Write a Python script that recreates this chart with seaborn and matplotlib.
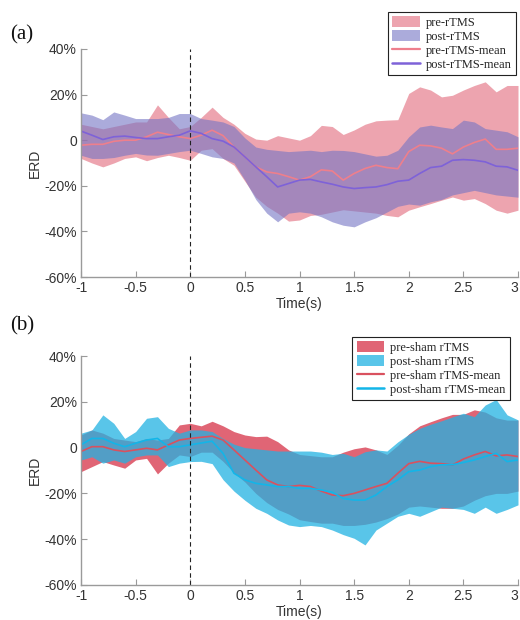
import numpy as np
import pandas as pd
import matplotlib
matplotlib.use("Agg")
import matplotlib.pyplot as plt
import matplotlib.transforms as mtransforms
from matplotlib.patches import Patch
from matplotlib.lines import Line2D
import seaborn as sns

# ---------------- data ----------------
time_s = [round(-1.0 + 0.1 * i, 1) for i in range(41)]

# panel (a)
a_pre_mean = [-2.2, -1.8, -1.8, -0.5, 0.0, 0.0, 1.5, 3.5, 2.5, 1.5, 0.7, 2.2, 4.4, 2.0, -3.0,
              -7.3, -11.7, -13.9, -14.6, -16.0, -17.5, -16.0, -13.0, -13.5, -17.5, -14.6, -12.4,
              -11.0, -12.0, -12.5, -5.0, -2.2, -2.5, -3.5, -6.0, -3.0, -1.0, 0.5, -4.0, -4.0, -3.5]
a_pre_upper = [7, 6, 5, 6, 7, 8, 8, 15.5, 10, 5, 6, 10, 14.5, 10, 7, 3, 0.5, 0, 2, 1, 0, 2, 6.5,
               6, 2.5, 4.5, 7, 8.5, 8.8, 9, 20.5, 23.4, 22, 19, 19.7, 22, 24, 25.6, 21.2, 24, 24]
a_pre_lower = [-8, -10, -11.7, -10, -8, -7.3, -9, -7.6, -6.6, -7.6, -8.8, -4.4, -3.7, -8, -11,
               -18, -25, -29, -32, -35.5, -35, -33, -32.5, -31.5, -30.5, -31, -31.5, -32, -33,
               -33.6, -30.7, -29.2, -27.8, -26.3, -24.9, -26.3, -25.6, -27.8, -30.7, -32, -30.7]
a_post_mean = [4.0, 2.2, 0.3, 1.5, 1.8, 1.2, 0.7, 0.7, 1.5, 2.2, 4.1, 3.0, 0.7, -0.4, -3.0,
               -7.3, -11.7, -16.0, -20.5, -19.0, -17.5, -17.2, -18.3, -19.3, -20.5, -21.2, -20.8,
               -20.5, -19.5, -18.0, -17.5, -14.6, -12.0, -11.4, -8.8, -8.5, -8.8, -9.5, -11.4,
               -11.7, -13.2]
a_post_upper = [12, 11, 9, 12.4, 11, 9.5, 9.5, 9.5, 10, 11.7, 11.7, 9.5, 8.8, 8, 6, 1, -3, -4,
                -4.5, -5, -4.7, -4.4, -5, -4.4, -4.5, -5, -6, -7, -6.6, -4.4, 1.5, 5.8, 6.6, 5.8,
                5.1, 8.8, 8, 5.1, 4.4, 3.7, 1.5]
a_post_lower = [-6.6, -8, -8, -7.6, -6.6, -5.8, -6.5, -6.6, -5.8, -5, -4.4, -5.8, -7.3, -8, -10,
                -17.5, -26, -32, -35.8, -32, -31.4, -32, -33.6, -35.8, -37.3, -38, -35.8, -34,
                -31.5, -29, -28, -28.5, -27, -26, -24, -23, -22, -23, -24, -24.5, -25]

# panel (b)
b_pre_mean = [-1.7, 0.4, 0.4, -1.0, -1.7, -1.0, -0.3, -1.0, 1.2, 3.3, 4.0, 4.5, 5.0, 3.3, -1.0,
              -5.4, -9.8, -14.1, -16.3, -17.0, -16.5, -17.0, -19.0, -20.7, -21.0, -20.0, -18.5,
              -17.0, -15.6, -11.2, -7.0, -6.0, -6.8, -7.0, -7.6, -5.0, -3.2, -1.7, -3.6, -3.2, -3.9]
b_pre_upper = [5.5, 7.7, 6.3, 4, 3.3, 2.6, 4, 3.3, 4, 9.9, 10.6, 9.5, 11.5, 9.5, 7, 5.5, 4.8, 5,
               2.6, -1, -3, -3.5, -4, -4, -2, -0.5, 0.3, -1, -3, 1, 6, 9.5, 11.3, 13, 14.5, 14.5,
               16.5, 15.5, 13, 12, 12]
b_pre_lower = [-10.5, -8.3, -6.1, -7.6, -9, -5.4, -4.7, -11.5, -6.8, -3.2, -3.9, -2, -2, -6, -11,
               -15, -20, -24, -27, -29, -31.5, -32.3, -33, -33, -34, -34, -33.5, -32.5, -31, -29,
               -26, -25.5, -26, -26.5, -26.5, -25.5, -23, -21, -20, -20, -19]
b_post_mean = [1.2, 4.0, 4.0, 1.9, 0.4, 1.9, 3.3, 4.0, 0.4, 0.4, 1.2, 2.0, 2.8, -2.5, -11.2,
               -14.1, -15.6, -16.3, -17.0, -17.0, -17.8, -17.8, -18.5, -19.5, -22.2, -22.9, -22.9,
               -20.7, -17.0, -14.1, -10.5, -9.8, -8.3, -7.5, -7.5, -6.5, -5.4, -3.9, -2.5, -6.1, -5.4]
b_post_upper = [6.3, 7.7, 14.3, 10.6, 4, 7, 12.8, 13.5, 8.4, 6.3, 7.7, 7.7, 7, 4, 1.5, 0, -0.5,
                -1, -1.5, -1.5, -1.5, -1.5, -2, -3, -2.5, -4, -1.8, -1, -1.5, 2.5, 5.8, 8.4, 10.2,
                11.7, 13.4, 15, 13.5, 18.6, 21, 14.3, 12.1]
b_post_lower = [-5.4, -4, -6.8, -5.4, -6.8, -4, -3.2, -3.2, -8.3, -6.8, -6.1, -6, -7, -14, -19,
                -23, -26.5, -28.7, -31.6, -33.8, -34.5, -34, -34.5, -36, -38, -39.6, -42.5, -36,
                -33, -30, -28.7, -30, -28, -26, -26.5, -27, -28.7, -26, -28.7, -27, -25]

y_ticks = [-60, -40, -20, 0, 20, 40]
y_tick_labels = ["-60%", "-40%", "-20%", "0", "20%", "40%"]
x_ticks = [-1, -0.5, 0, 0.5, 1, 1.5, 2, 2.5, 3]
x_tick_labels = ["-1", "-0.5", "0", "0.5", "1", "1.5", "2", "2.5", "3"]

a_labels = ["pre-rTMS", "post-rTMS", "pre-rTMS-mean", "post-rTMS-mean"]
b_labels = ["pre-sham rTMS", "post-sham rTMS", "pre-sham rTMS-mean", "post-sham rTMS-mean"]

# ---------------- style ----------------
sns.set_theme(style="ticks")
plt.rcParams["font.family"] = ["Liberation Sans", "DejaVu Sans"]

W, H = 520, 620
fig = plt.figure(figsize=(W / 100, H / 100), dpi=100)

def fax(l, t, r, b):
    return fig.add_axes([l / W, 1 - b / H, (r - l) / W, (b - t) / H])

ax_a = fax(81, 49, 518, 277)
ax_b = fax(81, 356, 518, 585)

panels = [
    (ax_a, "(a)", 35, a_labels,
     (a_pre_mean, a_pre_upper, a_pre_lower, a_post_mean, a_post_upper, a_post_lower),
     dict(pre_fill="#E1687A", pre_alpha=0.6, post_fill="#7474C4", post_alpha=0.6,
          pre_line="#EE7F8C", post_line="#7E62D8"),
     (516, 12)),
    (ax_b, "(b)", 326, b_labels,
     (b_pre_mean, b_pre_upper, b_pre_lower, b_post_mean, b_post_upper, b_post_lower),
     dict(pre_fill="#DF5D6E", pre_alpha=0.95, post_fill="#22B2E2", post_alpha=0.75,
          pre_line="#D9515F", post_line="#13B5E8"),
     (510, 337)),
]

tick_color = "#333333"
spine_color = "#9a9a9a"

for ax, tag, tag_y, labels, data, col, leg_pos in panels:
    pre_m, pre_u, pre_l, post_m, post_u, post_l = data
    df = pd.DataFrame({"t": time_s, "pre": pre_m, "post": post_m})
    ax.fill_between(time_s, pre_l, pre_u, color=col["pre_fill"], alpha=col["pre_alpha"],
                    linewidth=0)
    ax.fill_between(time_s, post_l, post_u, color=col["post_fill"], alpha=col["post_alpha"],
                    linewidth=0)
    sns.lineplot(data=df, x="t", y="pre", ax=ax, color=col["pre_line"], linewidth=1.2,
                 legend=False)
    sns.lineplot(data=df, x="t", y="post", ax=ax, color=col["post_line"], linewidth=1.2,
                 legend=False)
    ax.axvline(0, color="#222222", linestyle=(0, (4, 3)), linewidth=0.8)

    ax.set_xlim(-1, 3)
    ax.set_ylim(-60, 40)
    ax.set_xticks(x_ticks)
    ax.set_xticklabels(x_tick_labels)
    ax.set_yticks(y_ticks)
    ax.set_yticklabels(y_tick_labels)
    ax.tick_params(direction="in", length=4, width=0.8, color=spine_color,
                   labelsize=10, labelcolor=tick_color, pad=3)
    # keep the last x label inside the figure
    last = ax.get_xticklabels()[-1]
    last.set_transform(last.get_transform() +
                       mtransforms.ScaledTranslation(-4 / 100, 0, fig.dpi_scale_trans))
    for s in ["top", "right"]:
        ax.spines[s].set_visible(False)
    for s in ["left", "bottom"]:
        ax.spines[s].set_color(spine_color)
        ax.spines[s].set_linewidth(1.0)
    ax.set_xlabel("Time(s)", fontsize=10, color=tick_color, labelpad=1)
    ax.set_ylabel("ERD", fontsize=10, color=tick_color, labelpad=2)

    fig.text(10 / W, 1 - tag_y / H, tag, fontsize=15, family=["Liberation Serif"],
             va="center", ha="left", color="#111111")

    handles = [
        Patch(facecolor=col["pre_fill"], alpha=col["pre_alpha"], edgecolor="none"),
        Patch(facecolor=col["post_fill"], alpha=col["post_alpha"], edgecolor="none"),
        Line2D([0], [0], color=col["pre_line"], linewidth=1.6),
        Line2D([0], [0], color=col["post_line"], linewidth=1.8),
    ]
    leg = ax.legend(handles, labels, loc="upper right",
                    bbox_to_anchor=(leg_pos[0] / W, 1 - leg_pos[1] / H),
                    bbox_transform=fig.transFigure,
                    prop={"family": "Liberation Serif", "size": 9},
                    frameon=True, fancybox=False, edgecolor="#222222", framealpha=1,
                    handlelength=2.2, handleheight=0.95, labelspacing=0.1,
                    borderpad=0.35, handletextpad=0.5, borderaxespad=0)
    leg.get_frame().set_linewidth(0.8)

fig.savefig("out.png", dpi=100)
